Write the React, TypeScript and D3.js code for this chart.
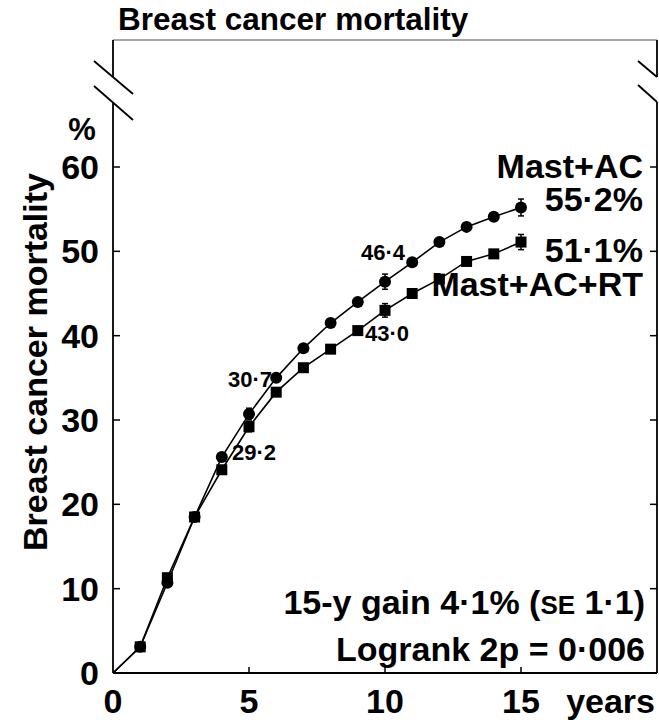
import React from 'react';
import * as d3 from 'd3';

// Years of follow-up
const YEARS = [1, 2, 3, 4, 5, 6, 7, 8, 9, 10, 11, 12, 13, 14, 15];
// Breast cancer mortality (%), mastectomy + axillary clearance
const MAST_AC = [3.1, 10.7, 18.5, 25.6, 30.7, 35.0, 38.5, 41.5, 44.0, 46.4, 48.7, 51.1, 52.9, 54.1, 55.2];
// Breast cancer mortality (%), mastectomy + axillary clearance + radiotherapy
const MAST_AC_RT = [3.1, 11.3, 18.5, 24.1, 29.2, 33.3, 36.2, 38.4, 40.6, 43.0, 45.0, 46.7, 48.8, 49.7, 51.1];
// Standard errors shown at 5, 10 and 15 years
const SE_YEARS = [5, 10, 15];
const SE_MAST_AC = [0.7, 0.9, 1.0];
const SE_MAST_AC_RT = [0.6, 0.8, 0.9];

const Y_TICKS = [0, 10, 20, 30, 40, 50, 60];
const X_TICKS = [0, 5, 10, 15];

const W = 659;
const H = 720;
const FONT = '"Liberation Sans", Arial, Helvetica, sans-serif';

const App: React.FC = () => {
  const x = d3.scaleLinear().domain([0, 20]).range([113, 657]);
  const y = d3.scaleLinear().domain([0, 60]).range([673, 167]);

  const left = x(0);
  const right = x(20);
  const bottom = y(0);
  const top = 40;

  const line = d3.line<[number, number]>()
    .x(d => x(d[0]))
    .y(d => y(d[1]));

  const acPts: [number, number][] = [[0, 0], ...YEARS.map((yr, i) => [yr, MAST_AC[i]] as [number, number])];
  const rtPts: [number, number][] = [[0, 0], ...YEARS.map((yr, i) => [yr, MAST_AC_RT[i]] as [number, number])];

  const valueAt = (arr: number[], yr: number) => arr[YEARS.indexOf(yr)];

  const errBars = (arr: number[], se: number[]) =>
    SE_YEARS.map((yr, i) => {
      const v = valueAt(arr, yr);
      const cx = x(yr);
      const y1 = y(v + se[i]);
      const y2 = y(v - se[i]);
      return (
        <g key={`e${yr}`} stroke="#000" strokeWidth={1.5}>
          <line x1={cx} x2={cx} y1={y1} y2={y2} />
          <line x1={cx - 3} x2={cx + 3} y1={y1} y2={y1} />
          <line x1={cx - 3} x2={cx + 3} y1={y2} y2={y2} />
        </g>
      );
    });

  const txt = { fontFamily: FONT, fontWeight: 'bold' as const, fill: '#000' };

  return (
    <svg width={W} height={H} style={{ position: 'absolute', left: 0, top: 0, background: '#fff' }}>
      {/* title */}
      <text x={118} y={30} fontSize={31.5} {...txt}>Breast cancer mortality</text>

      {/* frame */}
      <line x1={left} x2={right} y1={top} y2={top} stroke="#888" strokeWidth={1.5} />
      <g stroke="#000" strokeWidth={1.8}>
        <line x1={left} x2={left} y1={top} y2={77} />
        <line x1={left} x2={left} y1={102.6} y2={bottom} />
        <line x1={right} x2={right} y1={top} y2={77} />
        <line x1={right} x2={right} y1={102} y2={bottom} />
        <line x1={left} x2={right} y1={bottom} y2={bottom} />
        {/* axis breaks */}
        <line x1={94} y1={61} x2={133} y2={94} />
        <line x1={94} y1={86} x2={133} y2={120} />
        <line x1={638} y1={61} x2={right} y2={77} />
        <line x1={638} y1={85} x2={right} y2={102} />
      </g>

      {/* y ticks */}
      {Y_TICKS.map(t => (
        <g key={`y${t}`}>
          {t > 0 && (
            <>
              <line x1={left} x2={left + 7} y1={y(t)} y2={y(t)} stroke="#000" strokeWidth={1.5} />
              <line x1={right - 7} x2={right} y1={y(t)} y2={y(t)} stroke="#000" strokeWidth={1.5} />
            </>
          )}
          <text x={99} y={y(t) + 12} fontSize={34} textAnchor="end" {...txt}>{t}</text>
        </g>
      ))}
      <text x={82} y={140} fontSize={31} textAnchor="middle" {...txt}>%</text>

      {/* x ticks */}
      {X_TICKS.map(t => (
        <g key={`x${t}`}>
          {t > 0 && <line x1={x(t)} x2={x(t)} y1={bottom - 6} y2={bottom} stroke="#000" strokeWidth={1.5} />}
          <text x={x(t)} y={713} fontSize={34} textAnchor="middle" {...txt}>{t}</text>
        </g>
      ))}
      <text x={655} y={713} fontSize={34} textAnchor="end" {...txt}>years</text>

      {/* y axis label */}
      <text transform={`translate(47,${362}) rotate(-90)`} fontSize={34} textAnchor="middle" {...txt}>
        Breast cancer mortality
      </text>

      {/* curves */}
      <path d={line(acPts) || ''} fill="none" stroke="#000" strokeWidth={1.6} />
      <path d={line(rtPts) || ''} fill="none" stroke="#000" strokeWidth={1.6} />
      {errBars(MAST_AC, SE_MAST_AC)}
      {errBars(MAST_AC_RT, SE_MAST_AC_RT)}
      {YEARS.map((yr, i) => (
        <rect key={`s${yr}`} x={x(yr) - 5.5} y={y(MAST_AC_RT[i]) - 5.5} width={11} height={11} fill="#000" />
      ))}
      {YEARS.map((yr, i) => (
        <circle key={`c${yr}`} cx={x(yr)} cy={y(MAST_AC[i])} r={6} fill="#000" />
      ))}

      {/* value labels */}
      <text x={x(5) + 23} y={y(valueAt(MAST_AC, 5)) - 27} fontSize={22} textAnchor="end" {...txt}>30·7</text>
      <text x={x(5) - 17} y={y(valueAt(MAST_AC_RT, 5)) + 33} fontSize={22} {...txt}>29·2</text>
      <text x={x(10) + 20} y={y(valueAt(MAST_AC, 10)) - 22} fontSize={22} textAnchor="end" {...txt}>46·4</text>
      <text x={x(10) - 20} y={y(valueAt(MAST_AC_RT, 10)) + 31} fontSize={22} {...txt}>43·0</text>

      {/* series labels */}
      <text x={643} y={178} fontSize={34} textAnchor="end" {...txt}>Mast+AC</text>
      <text x={643} y={y(valueAt(MAST_AC, 15)) + 4} fontSize={34} textAnchor="end" {...txt}>55·2%</text>
      <text x={643} y={y(valueAt(MAST_AC_RT, 15)) + 20} fontSize={34} textAnchor="end" {...txt}>51·1%</text>
      <text x={643} y={296} fontSize={34} textAnchor="end" {...txt}>Mast+AC+RT</text>

      {/* statistics */}
      <text x={645} y={614} fontSize={34} textAnchor="end" {...txt}>
        15-y gain 4·1% (<tspan fontSize={26}>SE</tspan> 1·1)
      </text>
      <text x={645} y={661} fontSize={34} textAnchor="end" {...txt}>Logrank 2p = 0·006</text>
    </svg>
  );
};

export default App;
